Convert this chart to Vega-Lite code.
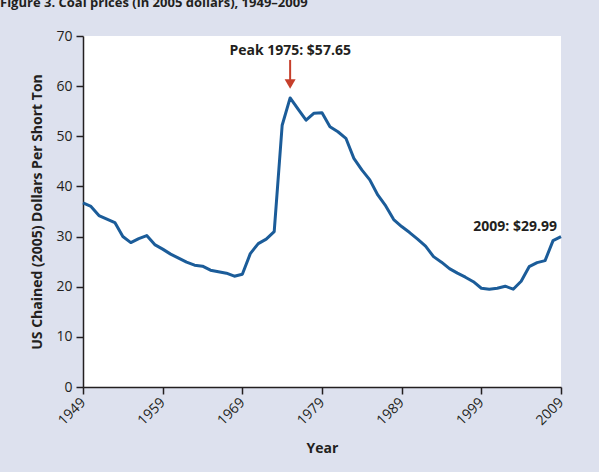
{
  "$schema": "https://vega.github.io/schema/vega-lite/v6.json",
  "width": 478,
  "height": 351,
  "autosize": {"type": "none"},
  "padding": {"left": 83, "top": 36, "right": 38, "bottom": 85},
  "background": "#dde1ee",
  "title": {
    "text": "Figure 3. Coal prices (in 2005 dollars), 1949–2009",
    "anchor": "start",
    "frame": "group",
    "dx": -83,
    "offset": 19,
    "font": "Open Sans",
    "fontSize": 13,
    "fontWeight": "bold",
    "color": "#231f20"
  },
  "config": {
    "view": {"fill": "white", "stroke": null},
    "font": "Open Sans",
    "axis": {
      "grid": false,
      "domainColor": "#231f20",
      "domainWidth": 1.5,
      "tickColor": "#231f20",
      "tickWidth": 1.5,
      "tickSize": 7,
      "labelColor": "#231f20",
      "labelFont": "Open Sans",
      "labelFontSize": 14,
      "labelPadding": 4,
      "titleColor": "#231f20",
      "titleFont": "Open Sans",
      "titleFontSize": 14,
      "titleFontWeight": "bold"
    }
  },
  "datasets": {
    "prices": [
      {"year": 1949, "price": 36.7},
      {"year": 1950, "price": 36.0},
      {"year": 1951, "price": 34.2},
      {"year": 1952, "price": 33.5},
      {"year": 1953, "price": 32.8},
      {"year": 1954, "price": 30.0},
      {"year": 1955, "price": 28.8},
      {"year": 1956, "price": 29.6},
      {"year": 1957, "price": 30.2},
      {"year": 1958, "price": 28.4},
      {"year": 1959, "price": 27.5},
      {"year": 1960, "price": 26.5},
      {"year": 1961, "price": 25.7},
      {"year": 1962, "price": 24.9},
      {"year": 1963, "price": 24.3},
      {"year": 1964, "price": 24.1},
      {"year": 1965, "price": 23.3},
      {"year": 1966, "price": 23.0},
      {"year": 1967, "price": 22.7},
      {"year": 1968, "price": 22.1},
      {"year": 1969, "price": 22.5},
      {"year": 1970, "price": 26.6},
      {"year": 1971, "price": 28.6},
      {"year": 1972, "price": 29.5},
      {"year": 1973, "price": 31.0},
      {"year": 1974, "price": 52.2},
      {"year": 1975, "price": 57.65},
      {"year": 1976, "price": 55.4},
      {"year": 1977, "price": 53.2},
      {"year": 1978, "price": 54.6},
      {"year": 1979, "price": 54.7},
      {"year": 1980, "price": 51.9},
      {"year": 1981, "price": 50.9},
      {"year": 1982, "price": 49.6},
      {"year": 1983, "price": 45.6},
      {"year": 1984, "price": 43.3},
      {"year": 1985, "price": 41.3},
      {"year": 1986, "price": 38.3},
      {"year": 1987, "price": 36.1},
      {"year": 1988, "price": 33.4},
      {"year": 1989, "price": 32.0},
      {"year": 1990, "price": 30.8},
      {"year": 1991, "price": 29.5},
      {"year": 1992, "price": 28.1},
      {"year": 1993, "price": 26.0},
      {"year": 1994, "price": 24.9},
      {"year": 1995, "price": 23.6},
      {"year": 1996, "price": 22.7},
      {"year": 1997, "price": 21.9},
      {"year": 1998, "price": 21.0},
      {"year": 1999, "price": 19.7},
      {"year": 2000, "price": 19.5},
      {"year": 2001, "price": 19.7},
      {"year": 2002, "price": 20.1},
      {"year": 2003, "price": 19.5},
      {"year": 2004, "price": 21.1},
      {"year": 2005, "price": 24.0},
      {"year": 2006, "price": 24.8},
      {"year": 2007, "price": 25.2},
      {"year": 2008, "price": 29.2},
      {"year": 2009, "price": 29.99}
    ],
    "notes": [
      {"year": 1975, "price": 57.65, "label": "Peak 1975: $57.65"},
      {"year": 2009, "price": 29.99, "label": "2009: $29.99"}
    ]
  },
  "encoding": {
    "x": {
      "field": "year",
      "type": "quantitative",
      "scale": {"domain": [1949, 2009], "nice": false, "zero": false},
      "axis": {
        "values": [1949, 1959, 1969, 1979, 1989, 1999, 2009],
        "format": "d",
        "labelAngle": 315,
        "labelAlign": "right",
        "labelBaseline": "middle",
        "labelPadding": 6,
        "title": "Year",
        "titlePadding": 14
      }
    },
    "y": {
      "field": "price",
      "type": "quantitative",
      "scale": {"domain": [0, 70], "nice": false},
      "axis": {
        "values": [0, 10, 20, 30, 40, 50, 60, 70],
        "title": "US Chained (2005) Dollars Per Short Ton",
        "titlePadding": 11
      }
    }
  },
  "layer": [
    {
      "data": {"name": "prices"},
      "mark": {"type": "line", "color": "#1b5c99", "strokeWidth": 3, "strokeJoin": "round"}
    },
    {
      "data": {"name": "notes"},
      "transform": [{"filter": "datum.year == 1975"}],
      "mark": {"type": "rule", "color": "#c63f2b", "strokeWidth": 2, "yOffset": -38, "y2Offset": -17},
      "encoding": {"y2": {"field": "price"}}
    },
    {
      "data": {"name": "notes"},
      "transform": [{"filter": "datum.year == 1975"}],
      "mark": {"type": "point", "shape": "triangle-down", "filled": true, "opacity": 1, "size": 121, "color": "#c63f2b", "yOffset": -14}
    },
    {
      "data": {"name": "notes"},
      "transform": [{"filter": "datum.year == 1975"}],
      "mark": {"type": "text", "align": "center", "baseline": "alphabetic", "yOffset": -43, "fontSize": 14, "fontWeight": "bold", "color": "#231f20"},
      "encoding": {"text": {"field": "label"}}
    },
    {
      "data": {"name": "notes"},
      "transform": [{"filter": "datum.year == 2009"}],
      "mark": {"type": "text", "align": "right", "baseline": "alphabetic", "xOffset": -4, "yOffset": -6, "fontSize": 14, "fontWeight": "bold", "color": "#231f20"},
      "encoding": {"text": {"field": "label"}}
    }
  ]
}
